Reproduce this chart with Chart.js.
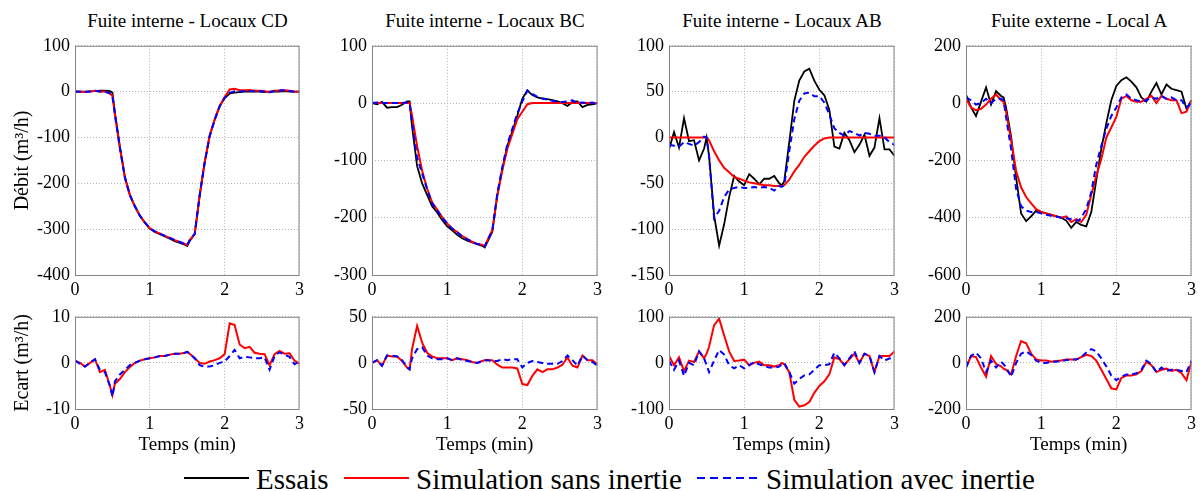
<!DOCTYPE html>
<html lang="fr">

<head>
    <meta charset="UTF-8">
    <title>Fuites - débits et écarts</title>
    <script src="https://cdn.jsdelivr.net/npm/chart.js"></script>
    <style>
        body { margin: 0; background: #fff; }
        #figure { position: relative; width: 1200px; height: 491px; overflow: hidden; background: #fff;
            font-family: 'Liberation Serif', 'Times New Roman', serif; color: #000; }
        .graphe { position: absolute; }
        .titre { position: absolute; top: 11px; font-size: 19px; line-height: 19px; text-align: center; white-space: nowrap; }
        .leg-texte { position: absolute; top: 465px; font-size: 29px; line-height: 29px; white-space: nowrap; }
        .leg-trait { position: absolute; top: 477px; height: 2px; }
    </style>
</head>

<body>
    <div id="figure">
        <div class="leg-trait" style="left:184px;width:65px;background:#000"></div>
        <div class="leg-texte" style="left:256px">Essais</div>
        <div class="leg-trait" style="left:344px;width:65px;background:#f00"></div>
        <div class="leg-texte" style="left:416px">Simulation sans inertie</div>
        <div class="leg-trait" style="left:697px;width:61px;background:repeating-linear-gradient(to right,#00f 0 8px,transparent 8px 13px)"></div>
        <div class="leg-texte" style="left:766px">Simulation avec inertie</div>
    </div>

    <script>
        // temps (min)
        const temps = [0, 0.067, 0.133, 0.2, 0.267, 0.333, 0.4, 0.467,
            0.5, 0.533, 0.6, 0.667, 0.733, 0.8, 0.867, 0.933,
            1, 1.067, 1.133, 1.2, 1.267, 1.333, 1.4, 1.467,
            1.5, 1.533, 1.6, 1.667, 1.733, 1.8, 1.867, 1.933,
            2, 2.067, 2.133, 2.2, 2.267, 2.333, 2.4, 2.467,
            2.533, 2.6, 2.667, 2.733, 2.8, 2.867, 2.933, 3];

        const titres = ['Fuite interne - Locaux CD', 'Fuite interne - Locaux BC', 'Fuite interne - Locaux AB', 'Fuite externe - Local A'];

        // échelles des débits et des écarts
        const debitMin = [-400, -300, -150, -600];
        const debitMax = [100, 100, 100, 200];
        const debitPas = [100, 100, 50, 200];
        const ecartMin = [-10, -50, -100, -200];
        const ecartMax = [10, 50, 100, 200];
        const ecartPas = [10, 50, 100, 200];

        // Locaux CD
        const essaisCD = [0, 0, 0, 0.5, 1, 2, 2, 1,
            -2, -45, -120, -186, -225, -250, -271, -286,
            -299, -306, -311, -316, -321, -326, -330, -334,
            -337, -326, -311, -225, -154, -96, -61, -32,
            -14, -4, -2, -1, 0, 0, 0, 0,
            -1, 0, 0, 0, 1, 0, 0, 0];
        const sansCD = [0.5, 0, -0.8, 0.5, 1.8, 0, 0.5, -4,
            -9, -49.5, -123.5, -188, -226, -250, -270.5, -285,
            -298, -305, -309.5, -314.5, -319, -324, -328, -332,
            -334.5, -324, -310, -225, -154, -95.5, -60.5, -31,
            -12, 4.6, 6.2, 3, 3.2, 3.5, 2.2, 2,
            0.9, -0.5, 1.9, 2.6, 3, 2.1, 0.5, -0.2];
        const avecCD = [0.5, -0.2, -0.8, 0.5, 1.8, 0.5, 0, -4,
            -9.3, -49, -122.5, -187.5, -225.5, -250, -270.5, -285,
            -298, -305, -309.5, -314.5, -319, -324, -328, -332,
            -334.5, -324, -310, -225.5, -155, -97, -61.5, -32,
            -13.7, -2.5, 0.8, 0, 1.3, 1.2, 1, 1,
            0.2, -1.5, 1.5, 2.3, 2.8, 1.3, -0.3, 0.3];
        const ecartSansCD = [0.5, 0, -0.8, 0, 0.8, -2, -1.5, -5,
            -7, -4.5, -3.5, -2, -0.9, 0, 0.5, 0.8,
            1, 1.2, 1.5, 1.5, 1.8, 2, 2, 2.2,
            2.4, 2, 1, 0, -0.2, 0.3, 0.6, 1,
            1.9, 8.6, 8.2, 4, 3.2, 3.5, 2.2, 2,
            1.9, -0.5, 1.9, 2.6, 2, 2.1, 0.5, -0.2];
        const ecartAvecCD = [0.5, -0.2, -0.8, 0, 0.8, -1.5, -2, -5,
            -7.3, -4, -2.5, -1.5, -0.5, 0, 0.5, 0.8,
            1, 1.2, 1.5, 1.5, 1.8, 2, 2, 2.2,
            2.4, 2, 1, -0.5, -0.8, -0.8, -0.5, 0,
            0.3, 1.5, 2.8, 1, 1.3, 1.2, 1, 1,
            1.2, -1.5, 1.5, 2.3, 1.8, 1.3, -0.3, 0.3];

        // Locaux BC
        const essaisBC = [0, -2, 2, -8, -7, -7, -3, 3,
            3, -41, -110, -140, -160, -180, -191, -204,
            -215, -222, -230, -236, -240, -243, -246, -249,
            -252, -243, -225, -160, -115, -75, -49, -22,
            8, 22, 14, 10, 8, 7, 5, 3,
            0, -5, 2, 3, -7, -3, -2, 0];
        const sansBC = [0, 0, 0, 0, 0, 0, 0, 0,
            0, -22, -75, -118, -149, -173, -186, -199,
            -210, -219, -225, -232, -237, -242, -246, -247,
            -250, -240, -222, -162, -118, -80, -54, -28,
            -15, -2, 0, 0, 0, 0, 0, 0,
            0, 0, 0, 0, 0, 0, 0, 0];
        const avecBC = [0, 1, 0, 0, 0, 0, 0, 1,
            1, -35, -95, -123, -150, -175, -187, -200,
            -210, -219, -225, -233, -238, -242, -246, -247,
            -250, -240, -223, -158, -112, -72, -45, -18,
            3, 22, 16, 11, 8, 6, 4, 2,
            2, 3, 5, 0, 1, 0, 1, -3];
        const ecartSansBC = [0, 3, -3, 8, 7, 7, 2, -5,
            -7, 15, 40, 22, 11, 7, 5, 5,
            5, 3, 5, 4, 3, 1, 0, 2,
            3, 3, 3, -2, -5, -5, -5, -6,
            -23, -24, -14, -7, -10, -7, -7, -5,
            -2, 6, -3, -5, 8, 3, 3, -2];
        const ecartAvecBC = [0, 3, -3, 8, 8, 7, 3, -5,
            -7, 5, 15, 17, 8, 5, 4, 4,
            5, 3, 5, 3, 2, 1, 0, 2,
            3, 3, 2, 2, 4, 3, 4, 4,
            -5, 0, 2, 1, 0, -1, -1, -1,
            2, 8, 3, -3, 8, 3, 1, -3];

        // Locaux AB
        const essaisAB = [-13, 6, -11, 21, -4, -3, -25, -12,
            0, -20, -85, -118, -95, -65, -42, -48,
            -52, -40, -45, -51, -45, -45, -42, -50,
            -52, -48, -5, 40, 62, 72, 75, 62,
            52, 46, 30, -10, -12, 5, -3, -16,
            -8, 3, -20, -11, 21, -13, -13, -20];
        const sansAB = [0, 0, 0, 0, 0, 0, 0, 0,
            0, -3, -15, -25, -33, -38, -43, -45,
            -47, -49, -50, -51, -52, -52, -53, -53,
            -53, -52, -46, -37, -30, -21, -15, -9,
            -4, -1, 0, 0, 0, 0, 0, 0,
            0, 0, 0, 0, 0, 0, 0, 0];
        const avecAB = [-8, -9, -10, -5, -7, -9, -5, 1,
            0, -20, -88, -80, -65, -57, -55, -54,
            -55, -55, -54, -55, -54, -55, -58, -53,
            -54, -52, -15, 20, 40, 48, 49, 45,
            45, 38, 25, 10, 5, 2, 7, 5,
            2, 5, 4, 2, 2, 0, -5, -8];
        const ecartSansAB = [15, -5, 12, -18, 5, 2, 25, 10,
            20, 35, 82, 96, 60, 25, 4, 5,
            7, -5, 0, 3, -5, -5, -8, -5,
            0, -3, -20, -80, -95, -92, -85, -65,
            -50, -40, -25, 12, 8, -5, 8, 20,
            0, 20, 15, -20, 15, 15, 15, 25];
        const ecartAvecAB = [5, -15, 5, -28, 0, -5, 25, 10,
            -5, -20, 5, 28, 18, -5, -12, -5,
            -12, -5, 2, -3, -7, -10, -10, -8,
            -3, 0, -20, -45, -35, -27, -25, -15,
            -5, -5, -3, 22, 10, -5, 10, 25,
            0, 20, 15, -20, 15, 5, 10, 5];

        // Local A
        const essaisA = [30, -15, -45, 5, 55, -5, 42, 25,
            20, -15, -117, -260, -385, -412, -395, -375,
            -380, -385, -390, -395, -400, -410, -435, -415,
            -420, -425, -430, -380, -270, -160, -70, 10,
            60, 80, 90, 75, 55, 20, 5, 40,
            70, 30, 65, 50, 45, 40, -20, 10];
        const sansA = [15, -15, -25, -20, -5, 15, 30, 10,
            5, -30, -130, -237, -294, -328, -350, -370,
            -380, -385, -390, -395, -400, -395, -415, -405,
            -410, -415, -390, -320, -254, -195, -120, -85,
            -48, 15, 25, 10, 5, 5, 15, 25,
            0, 25, 15, 10, 10, -35, -30, 10];
        const avecA = [20, 10, -5, 0, 15, 0, 15, 15,
            10, -50, -160, -300, -360, -375, -380, -380,
            -385, -390, -393, -396, -400, -402, -405, -410,
            -410, -400, -370, -310, -215, -150, -90, -45,
            -15, 20, 30, 15, 10, 5, 10, 20,
            15, 25, 15, 20, 10, 10, -15, 0];
        const ecartSansA = [-20, 30, 25, -20, -60, 30, -5, -15,
            -25, -30, -50, 30, 95, 85, 40, 15,
            10, 10, 5, 8, 10, 15, 15, 15,
            20, 25, 35, 30, 10, -30, -70, -110,
            -115, -65, -55, -55, -50, -35, 5, -10,
            -40, -30, -25, -35, -30, -45, -75, 5];
        const ecartAvecA = [-20, 30, 45, 20, -40, 10, -20, 5,
            -5, -20, -60, 0, 40, 50, 35, 10,
            0, 0, 5, 5, 8, 12, 15, 15,
            20, 25, 45, 60, 50, 20, -15, -55,
            -75, -60, -50, -50, -45, -30, 10, -5,
            -40, -20, -35, -30, -30, -35, -40, 10];

        const debits = [
            [essaisCD, sansCD, avecCD],
            [essaisBC, sansBC, avecBC],
            [essaisAB, sansAB, avecAB],
            [essaisA, sansA, avecA]
        ];
        const ecarts = [
            [ecartSansCD, ecartAvecCD],
            [ecartSansBC, ecartAvecBC],
            [ecartSansAB, ecartAvecAB],
            [ecartSansA, ecartAvecA]
        ];

        // mise en page (px)
        const gauches = [75, 372, 669, 966];
        const droites = [300, 598, 895, 1192];
        const haut = { top: 42, bottom: 275, xh: 30 };
        const bas = { top: 313, bottom: 409, xh: 47 };
        const margeHaut = 12;
        const margeDroite = 8;

        Chart.defaults.font.family = "'Liberation Serif', 'Times New Roman', serif";
        Chart.defaults.color = '#000';

        // cadre gris autour de la zone de tracé
        const cadre = {
            id: 'cadre',
            afterDraw: function (chart) {
                const ctx = chart.ctx;
                const a = chart.chartArea;
                ctx.save();
                ctx.strokeStyle = '#858585';
                ctx.lineWidth = 1;
                ctx.strokeRect(a.left + 0.5, a.top + 0.5, a.right - a.left - 1, a.bottom - a.top);
                ctx.restore();
            }
        };

        const styles = {
            essais: { borderColor: '#000000', borderWidth: 1.8, borderDash: [], order: 3 },
            sans: { borderColor: '#ff0000', borderWidth: 2, borderDash: [], order: 2 },
            avec: { borderColor: '#0000ff', borderWidth: 2, borderDash: [6, 4], order: 1 }
        };

        function creerGraphe(col, zone, series, noms, yMin, yMax, yPas, titreY, titreX) {
            const yw = col === 0 ? 75 : 50;
            const div = document.createElement('div');
            div.className = 'graphe';
            div.style.left = (gauches[col] - yw) + 'px';
            div.style.top = (zone.top - margeHaut) + 'px';
            div.style.width = (droites[col] - gauches[col] + yw + margeDroite) + 'px';
            div.style.height = (zone.bottom - zone.top + margeHaut + zone.xh) + 'px';
            const canvas = document.createElement('canvas');
            div.appendChild(canvas);
            document.getElementById('figure').appendChild(div);

            const grille = { color: '#b4b4b4', lineWidth: 1, drawTicks: false };
            const bord = { display: false, dash: [1, 2] };

            return new Chart(canvas, {
                type: 'line',
                data: {
                    labels: temps,
                    datasets: series.map((s, i) => Object.assign({
                        data: s,
                        pointRadius: 0,
                        tension: 0,
                        fill: false
                    }, styles[noms[i]]))
                },
                options: {
                    responsive: true,
                    maintainAspectRatio: false,
                    animation: false,
                    events: [],
                    layout: { padding: { top: margeHaut, right: margeDroite, left: 0, bottom: 0 } },
                    plugins: { legend: { display: false }, tooltip: { enabled: false } },
                    scales: {
                        x: {
                            type: 'linear',
                            min: 0,
                            max: 3,
                            ticks: { stepSize: 1, padding: 4, maxRotation: 0, font: { size: 18 } },
                            grid: grille,
                            border: bord,
                            title: {
                                display: !!titreX,
                                text: titreX || '',
                                font: { size: 19 },
                                padding: { top: 0, bottom: 0 }
                            },
                            afterFit: function (scale) { scale.height = zone.xh; }
                        },
                        y: {
                            min: yMin,
                            max: yMax,
                            ticks: { stepSize: yPas, padding: 5, font: { size: 18 } },
                            grid: grille,
                            border: bord,
                            title: {
                                display: !!titreY,
                                text: titreY || '',
                                font: { size: 20 },
                                padding: { top: 11, bottom: 0 }
                            },
                            afterFit: function (scale) { scale.width = yw; }
                        }
                    }
                },
                plugins: [cadre]
            });
        }

        titres.forEach((t, col) => {
            const el = document.createElement('div');
            el.className = 'titre';
            el.style.left = gauches[col] + 'px';
            el.style.width = (droites[col] - gauches[col]) + 'px';
            el.textContent = t;
            document.getElementById('figure').appendChild(el);

            creerGraphe(col, haut, debits[col], ['essais', 'sans', 'avec'],
                debitMin[col], debitMax[col], debitPas[col],
                col === 0 ? 'Débit (m³/h)' : null, null);
            creerGraphe(col, bas, ecarts[col], ['sans', 'avec'],
                ecartMin[col], ecartMax[col], ecartPas[col],
                col === 0 ? 'Ecart (m³/h)' : null, 'Temps (min)');
        });
    </script>
</body>

</html>
